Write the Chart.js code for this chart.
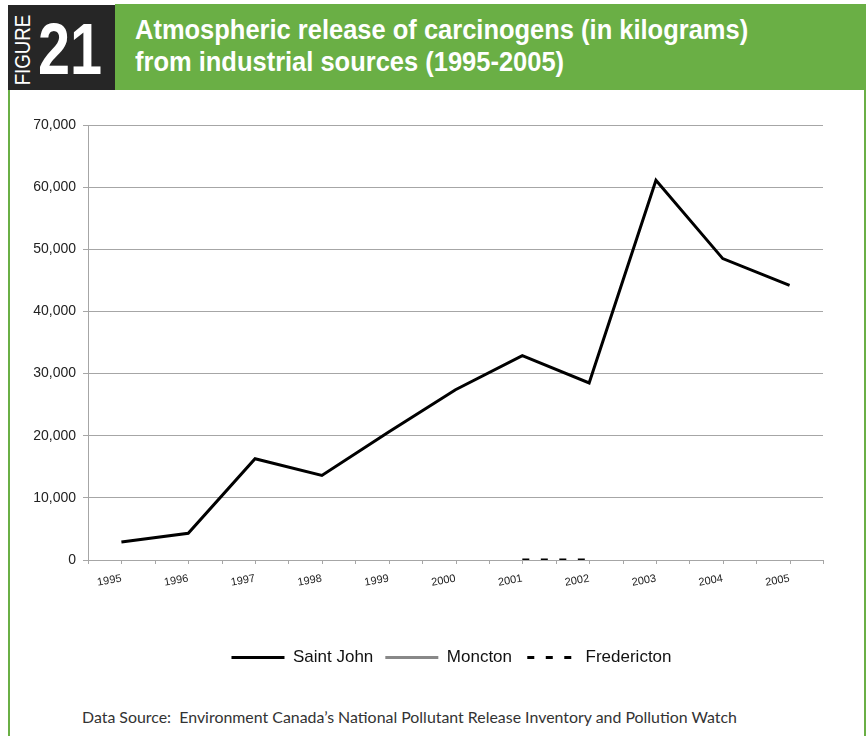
<!DOCTYPE html>
<html>
<head>
<meta charset="utf-8">
<script src="https://cdn.jsdelivr.net/npm/chart.js@4/dist/chart.umd.min.js"></script>
<style>
    body { margin: 0; background: #fff; width: 866px; height: 736px; position: relative; overflow: hidden; }
    .marco-izq { position: absolute; left: 8px; top: 88px; width: 2px; height: 660px; background: #6aaf45; }
    .marco-der { position: absolute; left: 864px; top: 88px; width: 2px; height: 660px; background: #6aaf45; }
    .barra { position: absolute; left: 115px; top: 4px; width: 751px; height: 86px; background: #6aaf45; }
    .caja { position: absolute; left: 8px; top: 5px; width: 107px; height: 85px; background: #262626; }
    .figura { position: absolute; left: 23px; top: 50px; color: #fff; font-family: "Liberation Sans", sans-serif;
              font-size: 22px; transform: translate(-50%, -50%) rotate(-90deg) scaleX(0.85); white-space: nowrap; }
    .numero { position: absolute; left: 38px; top: 8px; color: #fff; font-family: "Liberation Sans", sans-serif;
              font-weight: bold; font-size: 72px; transform: scaleX(0.8); transform-origin: left top; line-height: 82px; }
    .titulo { position: absolute; left: 135px; top: 14px; color: #fff; font-family: "Liberation Sans", sans-serif;
              font-weight: bold; font-size: 28px; line-height: 32px; white-space: nowrap;
              transform: scaleX(0.91); transform-origin: left top; }
    .grafico { position: absolute; left: 10px; top: 100px; }
    .fuente { position: absolute; left: 82px; top: 708px; font-family: Lato, sans-serif; font-size: 15px; color: #333; white-space: nowrap;
              transform: scaleX(1.06); transform-origin: left top; }
</style>
</head>
<body>
<div class="marco-izq"></div>
<div class="marco-der"></div>
<div class="barra"></div>
<div class="caja"></div>
<div class="figura">FIGURE</div>
<div class="numero">21</div>
<div class="titulo">Atmospheric release of carcinogens (in kilograms)<br>from industrial sources (1995-2005)</div>
<canvas id="grafico" class="grafico" width="854" height="580"></canvas>
<div class="fuente">Data Source:&nbsp; Environment Canada’s National Pollutant Release Inventory and Pollution Watch</div>

<script>
const anios = ['1995', '1996', '1997', '1998', '1999', '2000', '2001', '2002', '2003', '2004', '2005'];
const saintJohn = [2900, 4300, 16300, 13600, 20600, 27400, 32900, 28500, 61100, 48500, 44200];
const moncton = [null, null, null, null, null, null, null, null, null, null, null];
const fredericton = [null, null, null, null, null, null, 0, 0, null, null, null];
const ticksY = [0, 10000, 20000, 30000, 40000, 50000, 60000, 70000];

const colorGrid = '#a6a6a6';

// marcas cortas del eje x, en el centro y en los bordes de cada categoria
const marcasX = {
    id: 'marcasX',
    afterLayout(chart) {
        // la leyenda va centrada sobre el area del grafico, no sobre el canvas
        chart.legend.left += 35;
        chart.legend.right += 35;
    },
    afterDraw(chart) {
        const x = chart.scales.x;
        const ctx = chart.ctx;
        const paso = x.getPixelForValue(1) - x.getPixelForValue(0);
        ctx.save();
        ctx.strokeStyle = colorGrid;
        ctx.lineWidth = 1;
        ctx.beginPath();
        for (let i = 0; i < anios.length; i++) {
            const px = Math.round(x.getPixelForValue(i)) + 0.5;
            ctx.moveTo(px, x.top);
            ctx.lineTo(px, x.top + 4);
            const borde = Math.round(x.getPixelForValue(i) - paso / 2) + 0.5;
            ctx.moveTo(borde, x.top);
            ctx.lineTo(borde, x.top + 4);
        }
        const fin = Math.round(x.getPixelForValue(anios.length - 1) + paso / 2) + 0.5;
        ctx.moveTo(fin, x.top);
        ctx.lineTo(fin, x.top + 4);
        ctx.stroke();
        ctx.restore();
    }
};

new Chart(document.getElementById('grafico'), {
    type: 'line',
    data: {
        labels: anios,
        datasets: [
            { label: 'Saint John', data: saintJohn, borderColor: '#000', backgroundColor: '#000', borderWidth: 3 },
            { label: 'Moncton', data: moncton, borderColor: '#888', backgroundColor: '#888', borderWidth: 3 },
            { label: 'Fredericton', data: fredericton, borderColor: '#000', backgroundColor: '#000', borderWidth: 3, borderDash: [7, 11.5] }
        ]
    },
    options: {
        responsive: false,
        devicePixelRatio: 1,
        animation: false,
        elements: { point: { radius: 0 }, line: { tension: 0 } },
        layout: { padding: { top: 25, right: 41, bottom: 4, left: 0 } },
        plugins: {
            tooltip: { enabled: false },
            legend: {
                position: 'bottom',
                labels: {
                    boxWidth: 53,
                    boxHeight: 0,
                    padding: 12,
                    color: '#111',
                    font: { family: '"Liberation Sans", sans-serif', size: 17 },
                    generateLabels: (chart) => {
                        const items = Chart.defaults.plugins.legend.labels.generateLabels(chart);
                        // el trazo de ida y vuelta tiene que caer en los mismos guiones
                        items.forEach(it => {
                            if (it.lineDash && it.lineDash.length) it.lineDashOffset = 15.25;
                        });
                        return items;
                    }
                }
            }
        },
        scales: {
            x: {
                offset: true,
                grid: { display: false, drawTicks: false },
                border: { color: colorGrid },
                ticks: {
                    minRotation: 10,
                    maxRotation: 10,
                    padding: 12,
                    color: '#222',
                    font: { family: '"Liberation Sans", sans-serif', size: 11 }
                },
                afterFit: (s) => { s.height = 77; }
            },
            y: {
                min: 0,
                max: 70000,
                afterBuildTicks: (s) => { s.ticks = ticksY.map(v => ({ value: v })); },
                grid: { color: colorGrid, tickLength: 5 },
                border: { color: colorGrid },
                ticks: {
                    padding: 7,
                    color: '#222',
                    font: { family: '"Liberation Sans", Arial, sans-serif', size: 14 },
                    callback: (v) => v.toLocaleString('en-US')
                },
                afterFit: (s) => { s.width = 78; }
            }
        }
    },
    plugins: [marcasX]
});
</script>
</body>
</html>
